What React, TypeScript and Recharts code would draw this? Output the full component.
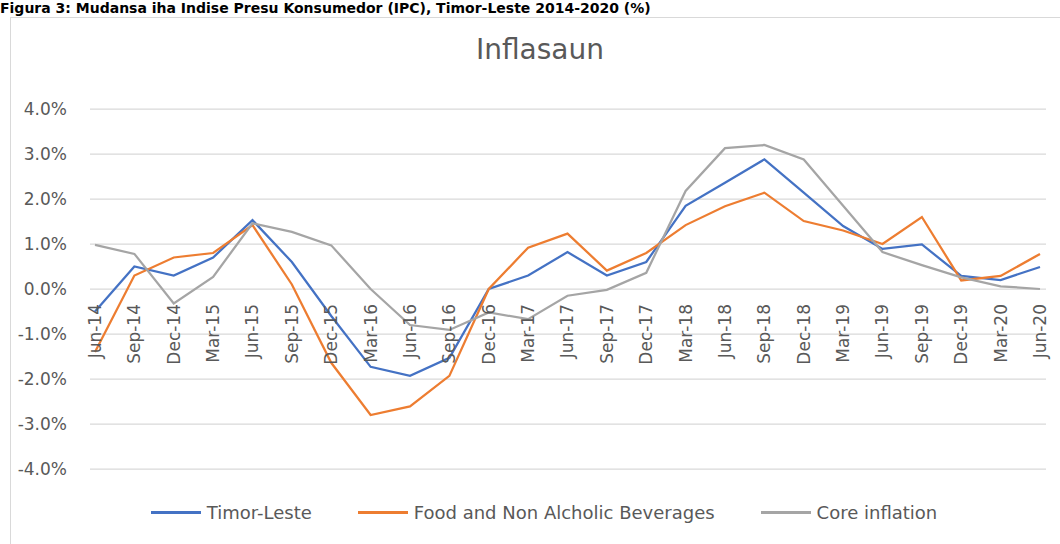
import { LineChart, Line, XAxis, YAxis, CartesianGrid, Legend } from 'recharts';

// quarterly labels on the category axis
const categories = [
  'Jun-14', 'Sep-14', 'Dec-14', 'Mar-15', 'Jun-15', 'Sep-15', 'Dec-15', 'Mar-16', 'Jun-16',
  'Sep-16', 'Dec-16', 'Mar-17', 'Jun-17', 'Sep-17', 'Dec-17', 'Mar-18', 'Jun-18', 'Sep-18',
  'Dec-18', 'Mar-19', 'Jun-19', 'Sep-19', 'Dec-19', 'Mar-20', 'Jun-20',
];

// values in %
const timorLeste = [
  -0.5, 0.5, 0.3, 0.7, 1.53, 0.6, -0.6, -1.73, -1.93, -1.53, 0.0, 0.3, 0.82,
  0.3, 0.6, 1.85, 2.36, 2.88, 2.14, 1.4, 0.89, 0.99, 0.29, 0.2, 0.49,
];
const foodBeverages = [
  -1.4, 0.3, 0.7, 0.8, 1.42, 0.1, -1.64, -2.8, -2.61, -1.93, 0.0, 0.92, 1.23,
  0.41, 0.8, 1.42, 1.84, 2.14, 1.51, 1.3, 1.0, 1.6, 0.19, 0.29, 0.78,
];
const coreInflation = [
  0.98, 0.78, -0.32, 0.27, 1.46, 1.27, 0.97, 0.0, -0.8, -0.91, -0.52, -0.67, -0.15,
  -0.02, 0.36, 2.18, 3.13, 3.2, 2.88, 1.85, 0.82, 0.53, 0.26, 0.06, 0.0,
];

const seriesNames = ['Timor-Leste', 'Food and Non Alcholic Beverages', 'Core inflation'];
const yTicks = [-4, -3, -2, -1, 0, 1, 2, 3, 4];

const data = categories.map((month, i) => ({
  month,
  timor: timorLeste[i],
  food: foodBeverages[i],
  core: coreInflation[i],
}));

const W = 1060;
const H = 544;
const X_AXIS_H = 30;
const margin = { top: 109, right: 14, left: 0, bottom: 75 - X_AXIS_H };
const Y_MIN = -4;
const Y_MAX = 4;
const plotH = H - margin.top - margin.bottom - X_AXIS_H;
// x axis crosses at zero, so tick labels sit under the 0 line
const zeroShift = (plotH * (0 - Y_MIN)) / (Y_MAX - Y_MIN);

const FONT = '"DejaVu Sans", sans-serif';
const TEXT = '#595959';

const MonthTick = ({ x, y, payload }: any) => (
  <g transform={`translate(${x},${y - zeroShift + 15})`}>
    <text transform="rotate(-90)" textAnchor="end" dy="0.35em" fill={TEXT} fontSize={17} fontFamily={FONT}>
      {payload.value}
    </text>
  </g>
);

const renderLegend = ({ payload }: any) => {
  const items = [...(payload || [])].sort((a: any, b: any) => seriesNames.indexOf(a.value) - seriesNames.indexOf(b.value));
  return (
    <div style={{ display: 'flex', justifyContent: 'center', gap: 46, fontFamily: FONT, fontSize: 18, color: TEXT }}>
      {items.map((entry: any) => (
        <div key={entry.value} style={{ display: 'flex', alignItems: 'center' }}>
          <span style={{ display: 'inline-block', width: 50, height: 2.5, background: entry.color, marginRight: 6 }} />
          <span>{entry.value}</span>
        </div>
      ))}
    </div>
  );
};

export default function App() {
  return (
    <div style={{ position: 'absolute', left: 0, top: 0, width: W, height: H, overflow: 'hidden', background: '#fff' }}>
      {/* figure caption */}
      <div
        style={{
          position: 'absolute', left: 0, top: 0, whiteSpace: 'nowrap', lineHeight: '16px',
          fontFamily: FONT, fontWeight: 'bold', fontSize: 14, color: '#000',
        }}
      >
        Figura 3: Mudansa iha Indise Presu Konsumedor (IPC), Timor-Leste 2014-2020 (%)
      </div>

      {/* chart frame */}
      <div style={{ position: 'absolute', left: 10, top: 17, width: 1100, height: 600, border: '1px solid #d9d9d9', background: '#fff' }} />

      <div
        style={{
          position: 'absolute', left: 440, top: 36, width: 200, textAlign: 'center',
          fontFamily: FONT, fontSize: 28, color: TEXT, lineHeight: 1,
        }}
      >
        Inflasaun
      </div>

      <div style={{ position: 'absolute', left: 0, top: 0 }}>
        <LineChart width={W} height={H} data={data} margin={margin}>
          <CartesianGrid vertical={false} stroke="#d9d9d9" strokeWidth={1.25} />
          <XAxis
            dataKey="month"
            height={X_AXIS_H}
            axisLine={false}
            tickLine={false}
            tickSize={0}
            tickMargin={0}
            interval={0}
            padding={{ left: 5, right: 6 }}
            tick={<MonthTick />}
          />
          <YAxis
            width={90}
            domain={[Y_MIN, Y_MAX]}
            ticks={yTicks}
            axisLine={false}
            tickLine={false}
            tickSize={0}
            tickMargin={23}
            tickFormatter={(v: number) => `${v.toFixed(1)}%`}
            tick={{ fill: TEXT, fontSize: 17, fontFamily: FONT }}
          />
          <Legend
            layout="horizontal"
            verticalAlign="middle"
            align="center"
            content={renderLegend}
            wrapperStyle={{ left: 14, top: 502, width: W }}
          />
          <Line type="linear" dataKey="timor" name={seriesNames[0]} stroke="#4472c4" strokeWidth={2.25} dot={false} isAnimationActive={false} />
          <Line type="linear" dataKey="food" name={seriesNames[1]} stroke="#ed7d31" strokeWidth={2.25} dot={false} isAnimationActive={false} />
          <Line type="linear" dataKey="core" name={seriesNames[2]} stroke="#a5a5a5" strokeWidth={2.25} dot={false} isAnimationActive={false} />
        </LineChart>
      </div>
    </div>
  );
}
